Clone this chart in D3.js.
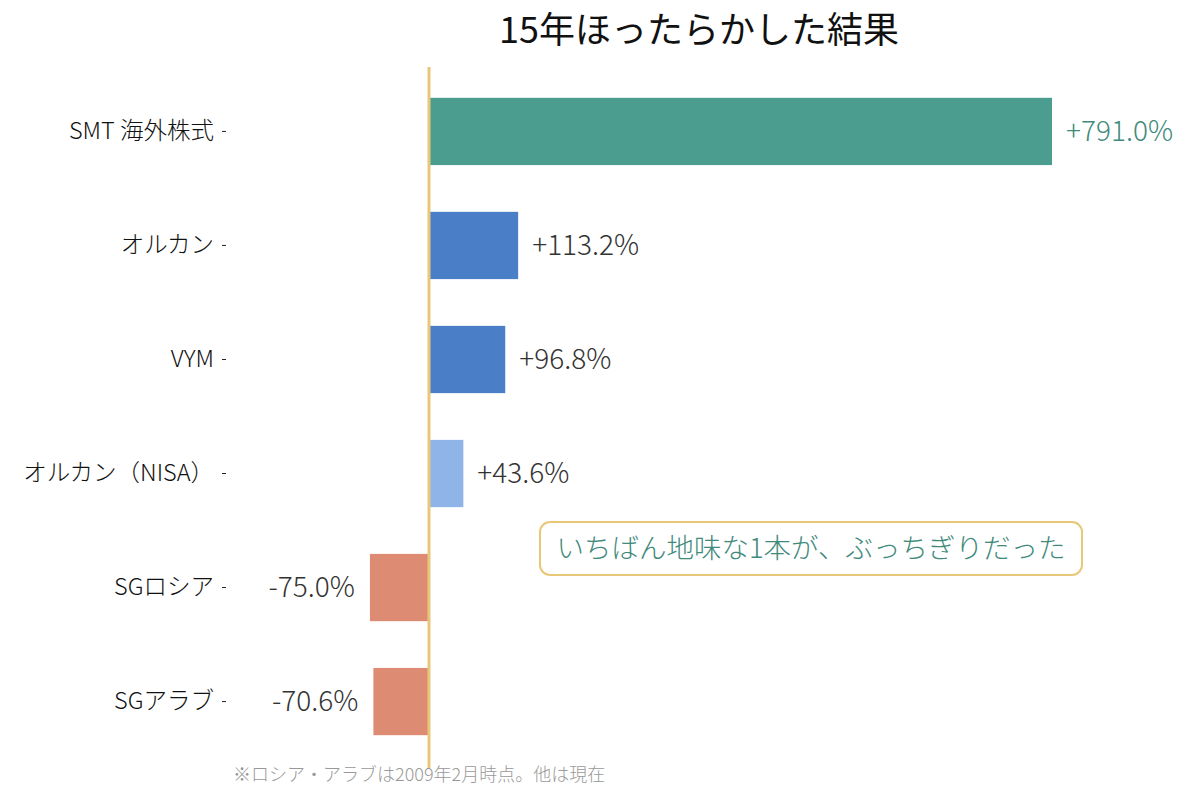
<!DOCTYPE html>
<html>
<head>
<meta charset="utf-8">
<script src="https://cdn.jsdelivr.net/npm/d3@7"></script>
<style>
  body { margin: 0; background: #fff; }
  svg { font-family: "Noto Sans CJK JP", "Noto Sans", sans-serif; font-weight: 300; }
</style>
</head>
<body>
<svg id="chart" width="1200" height="800"></svg>
<script>

var names = ["SMT 海外株式", "オルカン", "VYM", "オルカン（NISA）", "SGロシア", "SGアラブ"];
var returns = [791.0, 113.2, 96.8, 43.6, -75.0, -70.6];
var barColors = ["#4b9d90", "#4a7fc8", "#4a7fc8", "#8fb4e8", "#de8b74", "#de8b74"];
var title = "15年ほったらかした結果";
var note = "いちばん地味な1本が、ぶっちぎりだった";
var footnote = "※ロシア・アラブは2009年2月時点。他は現在";

var svg = d3.select("#chart");

var x = d3.scaleLinear().domain([0, 791]).range([429, 1052]);
var y = d3.scaleBand().domain(names).range([75, 758]).paddingInner(0.41).paddingOuter(0.2);

var rows = names.map(function(n, i) { return { name: n, value: returns[i], color: barColors[i] }; });

// category axis, no domain line
var yAxis = svg.append("g")
  .attr("transform", "translate(226,0)")
  .call(d3.axisLeft(y).tickSize(4).tickPadding(8));
yAxis.select(".domain").remove();
yAxis.selectAll(".tick line").attr("stroke", "#222");
yAxis.selectAll(".tick text")
  .attr("font-size", 23.5)
  .attr("fill", "#111")
  .style("font-family", "'Noto Sans CJK JP', sans-serif")
  .style("font-weight", 300);

svg.append("g").selectAll("rect")
  .data(rows)
  .enter().append("rect")
    .attr("x", function(d) { return x(Math.min(0, d.value)); })
    .attr("y", function(d) { return y(d.name); })
    .attr("width", function(d) { return Math.abs(x(d.value) - x(0)); })
    .attr("height", y.bandwidth())
    .attr("fill", function(d) { return d.color; });

// zero line
svg.append("line")
  .attr("x1", x(0)).attr("x2", x(0))
  .attr("y1", 67).attr("y2", 768)
  .attr("stroke", "#e8c878")
  .attr("stroke-width", 3);

svg.append("g").selectAll("text")
  .data(rows)
  .enter().append("text")
    .attr("x", function(d) { return d.value >= 0 ? x(d.value) + 14 : x(d.value) - 15; })
    .attr("y", function(d) { return y(d.name) + y.bandwidth() / 2; })
    .attr("dy", "0.35em")
    .attr("text-anchor", function(d) { return d.value >= 0 ? "start" : "end"; })
    .attr("font-size", 28)
    .attr("fill", function(d, i) { return i === 0 ? "#3f8a7b" : "#333"; })
    .text(function(d) { return (d.value > 0 ? "+" : "") + d.value.toFixed(1) + "%"; });

svg.append("text")
  .attr("x", 699).attr("y", 43)
  .attr("text-anchor", "middle")
  .attr("font-size", 36)
  .attr("fill", "#111")
  .style("font-weight", 400)
  .text(title);

// annotation box
var box = svg.append("g");
box.append("rect")
  .attr("x", 540).attr("y", 522)
  .attr("width", 542).attr("height", 53)
  .attr("rx", 10)
  .attr("fill", "#fff")
  .attr("stroke", "#e8c878")
  .attr("stroke-width", 2);
box.append("text")
  .attr("x", 811).attr("y", 548.5)
  .attr("dy", "0.35em")
  .attr("text-anchor", "middle")
  .attr("font-size", 27.5)
  .attr("fill", "#3f8a7b")
  .text(note);

svg.append("text")
  .attr("x", 233).attr("y", 781)
  .attr("font-size", 18)
  .attr("fill", "#999")
  .text(footnote);

</script>
</body>
</html>
